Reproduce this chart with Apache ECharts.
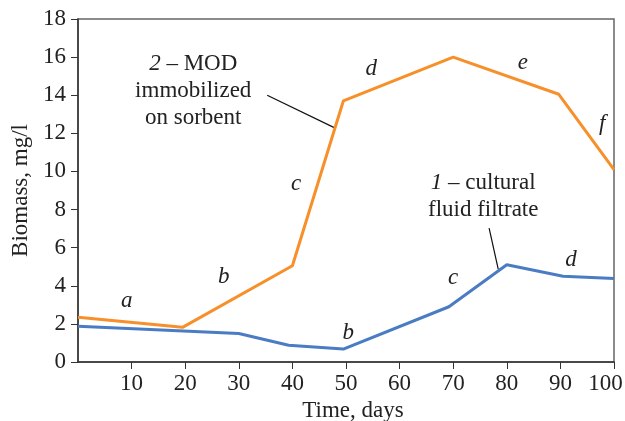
<!DOCTYPE html>
<html><head><meta charset="utf-8">
<script src="https://cdn.jsdelivr.net/npm/echarts@6/dist/echarts.min.js"></script>
<style>html,body{margin:0;padding:0;background:#fff}#c{width:625px;height:421px}</style>
</head><body><div id="c"></div>
<script>
// Data
const modDays = [0, 19.5, 40, 49.5, 70, 89.7, 100];
const modValues = [2.35, 1.82, 5.05, 13.7, 16.0, 14.05, 10.1];
const filtrateDays = [0, 30, 39.3, 49.5, 69.2, 80, 90.5, 100];
const filtrateValues = [1.88, 1.5, 0.88, 0.68, 2.9, 5.1, 4.5, 4.38];
const xTicks = [0, 10, 20, 30, 40, 50, 60, 70, 80, 90, 100];
const yTicks = [0, 2, 4, 6, 8, 10, 12, 14, 16, 18];
// phase letter annotations [x, y, text]
const modPhases = [[9.1, 3.2, 'a'], [27.2, 4.46, 'b'], [40.7, 9.34, 'c'], [54.7, 15.4, 'd'], [83.0, 15.7, 'e'], [97.8, 12.5, 'f']];
const filtratePhases = [[50.4, 1.52, 'b'], [70.0, 4.4, 'c'], [92.0, 5.35, 'd']];
// curve labels
const modLabel = {pos: [21.5, 14.2], lines: ['{i|2} – MOD', 'immobilized', 'on sorbent'], leader: [[35.3, 14.0], [47.8, 12.3]]};
const filtrateLabel = {pos: [75.6, 8.7], lines: ['{i|1} – cultural', 'fluid filtrate'], leader: [[76.7, 7.03], [78.4, 4.88]]};

const FONT = 'Liberation Serif';
const FS = 23;
const TXT = '#222';
const chart = echarts.init(document.getElementById('c'));
const zip = (xs, ys) => xs.map((x, i) => [x, ys[i]]);
const xMax = xTicks[xTicks.length - 1];
chart.setOption({
  animation: false,
  grid: {left: 78, right: 11, top: 19, bottom: 59, show: true, borderColor: '#666', borderWidth: 1.5,
    containLabel: false, outerBoundsMode: 'none'},
  xAxis: {
    type: 'value', min: xTicks[0], max: xMax, interval: 10,
    name: 'Time, days', nameLocation: 'middle', nameGap: 36,
    nameTextStyle: {fontFamily: FONT, fontSize: FS, color: TXT, padding: [0, 0, 0, 14]},
    axisLine: {lineStyle: {color: '#333', width: 1.5}},
    axisTick: {show: true, length: 7, lineStyle: {color: '#333'}, customValues: xTicks.slice(1)},
    axisLabel: {fontFamily: FONT, fontSize: FS, color: TXT, margin: 10,
      formatter: v => v === 0 ? '' : (v === xMax ? '{r|' + v + '}' : String(v)),
      rich: {r: {fontFamily: FONT, fontSize: FS, color: TXT, padding: [0, 17, 0, 0]}}},
    splitLine: {show: false}
  },
  yAxis: {
    type: 'value', min: yTicks[0], max: yTicks[yTicks.length - 1], interval: 2,
    name: 'Biomass, mg/l', nameLocation: 'middle', nameGap: 45,
    nameTextStyle: {fontFamily: FONT, fontSize: FS, color: TXT},
    axisLine: {show: true, lineStyle: {color: '#333', width: 1.5}},
    axisTick: {show: true, length: 7, lineStyle: {color: '#333'}},
    axisLabel: {fontFamily: FONT, fontSize: FS, color: TXT, margin: 12},
    splitLine: {show: false}
  },
  series: [
    {type: 'line', data: zip(modDays, modValues), symbol: 'none', lineStyle: {color: '#F7902A', width: 3}},
    {type: 'line', data: zip(filtrateDays, filtrateValues), symbol: 'none', lineStyle: {color: '#4A7CC4', width: 3}}
  ]
});

const px = p => chart.convertToPixel({gridIndex: 0}, p);
const graphics = [];
modPhases.concat(filtratePhases).forEach(([x, y, t]) => {
  const [X, Y] = px([x, y]);
  graphics.push({type: 'text', x: X, y: Y, style: {text: t, font: 'italic ' + FS + 'px "Liberation Serif"', fill: TXT, align: 'center', verticalAlign: 'middle'}});
});
[modLabel, filtrateLabel].forEach(l => {
  const [X, Y] = px(l.pos);
  graphics.push({type: 'text', x: X, y: Y, style: {
    text: l.lines.join('\n'), fontFamily: FONT, fontSize: FS, fill: TXT, align: 'center', verticalAlign: 'middle', lineHeight: 27,
    rich: {i: {fontFamily: FONT, fontSize: FS, fontStyle: 'italic', fill: TXT, lineHeight: 27}}
  }});
  const a = px(l.leader[0]), b = px(l.leader[1]);
  graphics.push({type: 'line', shape: {x1: a[0], y1: a[1], x2: b[0], y2: b[1]}, style: {stroke: '#111', lineWidth: 1.2}});
});
chart.setOption({graphic: graphics});
</script></body></html>
